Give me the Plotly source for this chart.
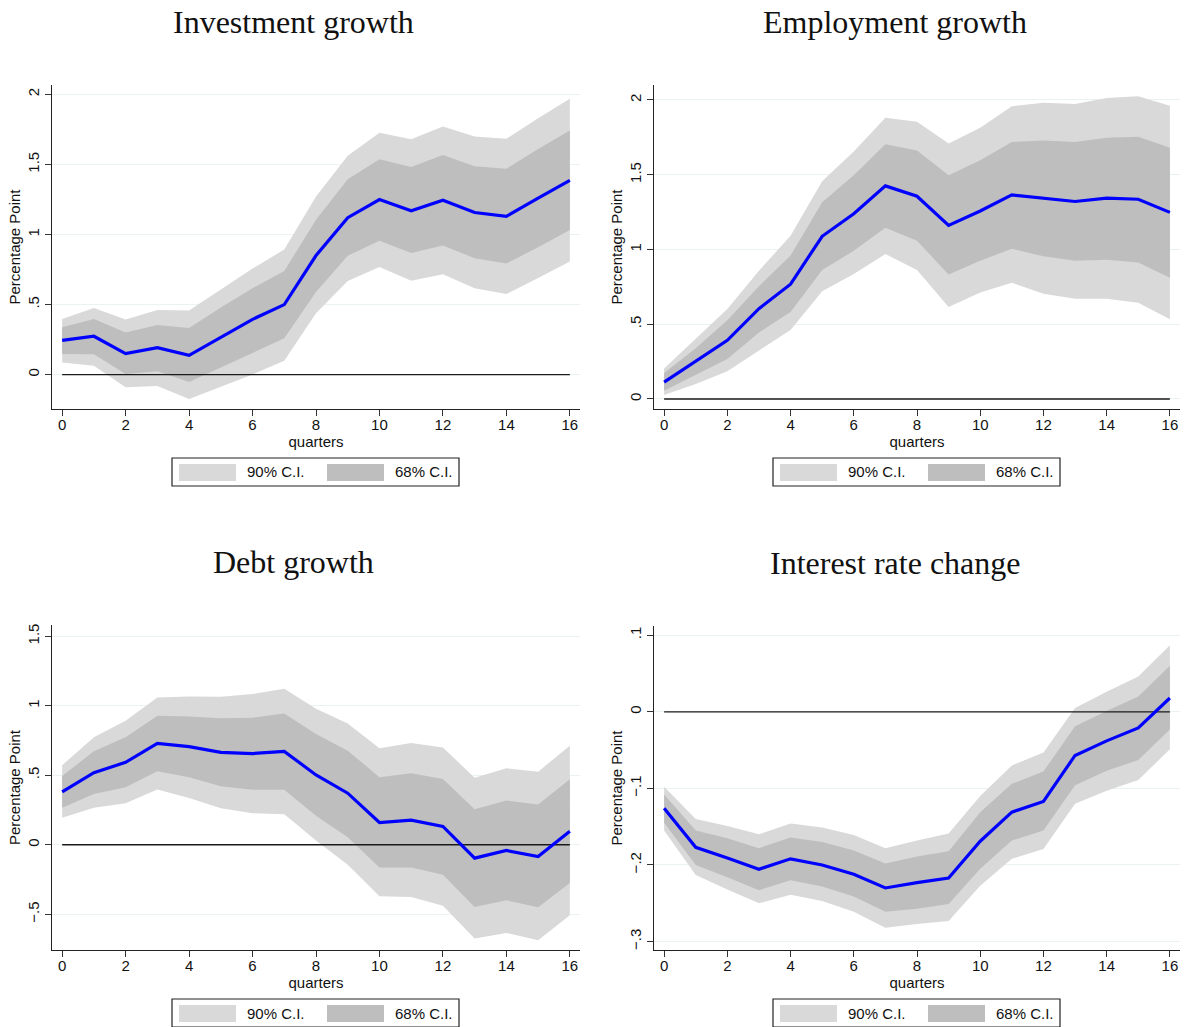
import plotly.graph_objects as go

quarters = list(range(17))

# Investment growth
inv_irf = [0.245, 0.274, 0.150, 0.193, 0.138, 0.267, 0.395, 0.500, 0.850, 1.120, 1.250, 1.170, 1.245, 1.157, 1.130, 1.260, 1.386]
inv_lo68 = [0.148, 0.145, 0.005, 0.024, -0.052, 0.050, 0.155, 0.260, 0.590, 0.848, 0.955, 0.869, 0.921, 0.831, 0.793, 0.910, 1.033]
inv_hi68 = [0.338, 0.398, 0.300, 0.355, 0.333, 0.480, 0.617, 0.740, 1.105, 1.395, 1.538, 1.481, 1.567, 1.488, 1.469, 1.610, 1.743]
inv_lo90 = [0.086, 0.064, -0.090, -0.081, -0.174, -0.085, 0.002, 0.100, 0.438, 0.669, 0.769, 0.671, 0.717, 0.617, 0.576, 0.690, 0.807]
inv_hi90 = [0.398, 0.476, 0.393, 0.462, 0.457, 0.610, 0.757, 0.893, 1.271, 1.562, 1.726, 1.679, 1.771, 1.700, 1.683, 1.830, 1.969]

# Employment growth
emp_irf = [0.113, 0.250, 0.392, 0.604, 0.768, 1.088, 1.239, 1.425, 1.356, 1.161, 1.257, 1.365, 1.345, 1.321, 1.343, 1.336, 1.248]
emp_lo68 = [0.055, 0.160, 0.268, 0.445, 0.582, 0.863, 0.991, 1.146, 1.058, 0.832, 0.925, 1.004, 0.954, 0.925, 0.931, 0.912, 0.810]
emp_hi68 = [0.173, 0.340, 0.527, 0.754, 0.960, 1.316, 1.496, 1.704, 1.662, 1.496, 1.597, 1.719, 1.728, 1.719, 1.748, 1.754, 1.681]
emp_lo90 = [0.027, 0.100, 0.186, 0.327, 0.462, 0.721, 0.836, 0.969, 0.863, 0.615, 0.712, 0.777, 0.704, 0.670, 0.670, 0.644, 0.533]
emp_hi90 = [0.204, 0.400, 0.602, 0.858, 1.091, 1.456, 1.655, 1.881, 1.854, 1.708, 1.814, 1.958, 1.982, 1.973, 2.013, 2.024, 1.962]

# Debt growth
debt_irf = [0.380, 0.519, 0.593, 0.730, 0.706, 0.665, 0.656, 0.672, 0.502, 0.371, 0.160, 0.177, 0.132, -0.096, -0.041, -0.084, 0.098]
debt_lo68 = [0.266, 0.366, 0.414, 0.529, 0.486, 0.421, 0.395, 0.395, 0.208, 0.055, -0.163, -0.163, -0.215, -0.447, -0.400, -0.450, -0.275]
debt_hi68 = [0.495, 0.672, 0.773, 0.928, 0.923, 0.911, 0.914, 0.945, 0.797, 0.677, 0.486, 0.514, 0.474, 0.256, 0.318, 0.289, 0.471]
debt_lo90 = [0.194, 0.266, 0.299, 0.397, 0.337, 0.263, 0.227, 0.220, 0.031, -0.144, -0.371, -0.376, -0.438, -0.675, -0.634, -0.687, -0.507]
debt_hi90 = [0.572, 0.773, 0.892, 1.060, 1.067, 1.065, 1.084, 1.122, 0.978, 0.873, 0.694, 0.732, 0.699, 0.483, 0.550, 0.526, 0.713]

# Interest rate change
rate_irf = [-0.126, -0.177, -0.191, -0.2055, -0.192, -0.200, -0.212, -0.230, -0.223, -0.217, -0.169, -0.131, -0.117, -0.057, -0.038, -0.021, 0.018]
rate_lo68 = [-0.145, -0.200, -0.216, -0.233, -0.220, -0.228, -0.241, -0.261, -0.257, -0.251, -0.205, -0.168, -0.155, -0.096, -0.077, -0.063, -0.023]
rate_hi68 = [-0.108, -0.155, -0.165, -0.178, -0.164, -0.170, -0.181, -0.198, -0.189, -0.182, -0.131, -0.094, -0.078, -0.019, 0.001, 0.020, 0.060]
rate_lo90 = [-0.155, -0.213, -0.232, -0.250, -0.239, -0.247, -0.261, -0.282, -0.277, -0.273, -0.227, -0.192, -0.179, -0.120, -0.103, -0.089, -0.049]
rate_hi90 = [-0.098, -0.140, -0.149, -0.160, -0.146, -0.151, -0.161, -0.178, -0.168, -0.159, -0.110, -0.070, -0.053, 0.005, 0.026, 0.046, 0.087]

titles = ["Investment growth", "Employment growth", "Debt growth", "Interest rate change"]
ytick_vals = [[0, 0.5, 1, 1.5, 2], [0, 0.5, 1, 1.5, 2], [-0.5, 0, 0.5, 1, 1.5], [-0.3, -0.2, -0.1, 0, 0.1]]
ytick_text = [["0", ".5", "1", "1.5", "2"], ["0", ".5", "1", "1.5", "2"],
              ["\u2212.5", "0", ".5", "1", "1.5"], ["\u2212.3", "\u2212.2", "\u2212.1", "0", ".1"]]
xtick_vals = [0, 2, 4, 6, 8, 10, 12, 14, 16]
legend_labels = ["90% C.I.", "68% C.I."]

W, H = 1189, 1027
C90 = "#d9d9d9"
C68 = "#bebebe"

panels = [
    (inv_irf, inv_lo68, inv_hi68, inv_lo90, inv_hi90),
    (emp_irf, emp_lo68, emp_hi68, emp_lo90, emp_hi90),
    (debt_irf, debt_lo68, debt_hi68, debt_lo90, debt_hi90),
    (rate_irf, rate_lo68, rate_hi68, rate_lo90, rate_hi90),
]
yranges = [[-0.245, 2.067], [-0.067, 2.10], [-0.757, 1.581], [-0.311, 0.112]]

# pixel boxes of the plot areas: left, right, top, bottom
boxes = [(52, 580, 85, 409), (654, 1180, 85, 409), (52, 580, 625, 950), (654, 1180, 626, 950)]
title_x = [293, 895, 293, 895]

fig = go.Figure()
annotations = []
shapes = []
font_sans = "Liberation Sans, Arial, sans-serif"
txt = dict(family=font_sans, size=15, color="#111")

for i, (irf, lo68, hi68, lo90, hi90) in enumerate(panels):
    n = "" if i == 0 else str(i + 1)
    xa, ya = "x" + n, "y" + n
    fig.add_trace(go.Scatter(x=quarters, y=lo90, mode="lines", line=dict(width=0), xaxis=xa, yaxis=ya,
                             showlegend=False, hoverinfo="skip"))
    fig.add_trace(go.Scatter(x=quarters, y=hi90, mode="lines", line=dict(width=0), fill="tonexty",
                             fillcolor=C90, xaxis=xa, yaxis=ya, showlegend=False, name="90% C.I."))
    fig.add_trace(go.Scatter(x=quarters, y=lo68, mode="lines", line=dict(width=0), xaxis=xa, yaxis=ya,
                             showlegend=False, hoverinfo="skip"))
    fig.add_trace(go.Scatter(x=quarters, y=hi68, mode="lines", line=dict(width=0), fill="tonexty",
                             fillcolor=C68, xaxis=xa, yaxis=ya, showlegend=False, name="68% C.I."))
    fig.add_trace(go.Scatter(x=[quarters[0], quarters[-1]], y=[0, 0], mode="lines",
                             line=dict(color="#1a1a1a", width=1.3), xaxis=xa, yaxis=ya, showlegend=False,
                             hoverinfo="skip"))
    fig.add_trace(go.Scatter(x=quarters, y=irf, mode="lines", line=dict(color="#0000ff", width=3.2),
                             xaxis=xa, yaxis=ya, showlegend=False, name=titles[i]))

    l, r, t, b = boxes[i]
    common = dict(showline=True, linecolor="#222", linewidth=1.3, ticks="outside", ticklen=6,
                  tickcolor="#333", tickfont=txt, zeroline=False)
    fig.layout["xaxis" + n] = dict(
        domain=[l / W, r / W], anchor=ya, range=[-0.32, 16.32], tickvals=xtick_vals,
        ticklabelstandoff=-4, showgrid=False, title=dict(text="quarters", font=txt, standoff=0), **common)
    fig.layout["yaxis" + n] = dict(
        domain=[1 - b / H, 1 - t / H], anchor=xa, range=yranges[i], tickvals=ytick_vals[i],
        ticktext=ytick_text[i], tickangle=-90, showgrid=True, gridcolor="#eaf2f3", gridwidth=1,
        title=dict(text="Percentage Point", font=txt, standoff=0), **common)

    annotations.append(dict(text=titles[i], x=title_x[i] / W, y=1 - (t - 63) / H, xref="paper", yref="paper",
                            showarrow=False, xanchor="center", yanchor="middle",
                            font=dict(family="Liberation Serif, serif", size=32, color="#111")))

    # legend box below each panel
    cx = (l + r) / 2
    ly0, ly1 = b + 49, b + 77
    bx0, bx1 = cx - 144, cx + 143
    shapes.append(dict(type="rect", xref="paper", yref="paper", x0=bx0 / W, x1=bx1 / W,
                       y0=1 - ly1 / H, y1=1 - ly0 / H, line=dict(color="#222", width=1.2), fillcolor="white"))
    for k, (off, col) in enumerate([(7, C90), (155, C68)]):
        px0 = bx0 + off
        shapes.append(dict(type="rect", xref="paper", yref="paper", x0=px0 / W, x1=(px0 + 57) / W,
                           y0=1 - (ly1 - 5) / H, y1=1 - (ly0 + 6) / H, line=dict(width=0), fillcolor=col))
        annotations.append(dict(text=legend_labels[k], x=(px0 + 66) / W, y=1 - (ly0 + ly1) / 2 / H,
                                xref="paper", yref="paper", showarrow=False, xanchor="left", yanchor="middle",
                                font=txt))

fig.update_layout(width=W, height=H, margin=dict(l=0, r=0, t=0, b=0), plot_bgcolor="white",
                  paper_bgcolor="white", annotations=annotations, shapes=shapes, showlegend=False)

fig.write_html("out.html", config={"displayModeBar": False},
               post_script="document.body.style.margin='0px';")
